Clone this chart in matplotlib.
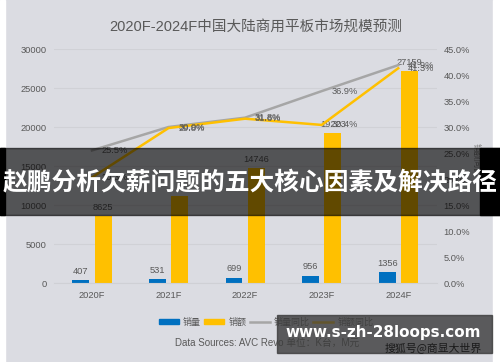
import matplotlib
matplotlib.use("Agg")
import matplotlib.pyplot as plt
from matplotlib.patches import Patch, Rectangle
from matplotlib.lines import Line2D

plt.rcParams['font.family'] = ['Liberation Sans', 'Noto Sans CJK SC', 'DejaVu Sans']

categories = ['2020F', '2021F', '2022F', '2023F', '2024F']
volume = [407, 531, 699, 956, 1356]
value = [8625, 11205, 14746, 19223, 27159]
volume_yoy = [25.5, 30.0, 31.8, 36.9, 41.9]
value_yoy = [20.3, 29.8, 31.6, 30.4, 41.3]
left_ticks = [0, 5000, 10000, 15000, 20000, 25000, 30000]
right_ticks = [0, 5, 10, 15, 20, 25, 30, 35, 40, 45]

BG = '#dbdce2'
TXT = '#595959'
BLUE = '#0070c0'
YEL = '#ffc000'
GRAY = '#a6a6a6'

fig = plt.figure(figsize=(5, 3.62), dpi=100, facecolor=BG)
ax = fig.add_axes([0.1074, 0.2182, 0.7656, 0.6464])
ax.set_facecolor(BG)
x = list(range(len(categories)))
w = 0.22
off = 0.145
b1 = ax.bar([i - off for i in x], volume, width=w, color=BLUE, zorder=2)
b2 = ax.bar([i + off for i in x], value, width=w, color=YEL, zorder=2)
ax.bar_label(b1, labels=[str(v) for v in volume], padding=3, fontsize=6.7, color=TXT)
ax.bar_label(b2, labels=[str(v) if i != 1 else '' for i, v in enumerate(value)],
             padding=3, fontsize=6.7, color=TXT)
ax.set_ylim(0, 30000)
ax.set_xlim(-0.5, 4.5)
ax.set_yticks(left_ticks)
ax.set_yticklabels([str(t) for t in left_ticks])
ax.set_xticks(x)
ax.set_xticklabels(categories)
ax.tick_params(axis='both', length=0, labelsize=6.7, labelcolor=TXT)
ax.tick_params(axis='y', pad=5)
ax.tick_params(axis='x', pad=6)
for s in ['top', 'left', 'right']:
    ax.spines[s].set_visible(False)
ax.spines['bottom'].set_color('#cfd0d5')
ax.grid(axis='y', color='#d0d1d6', linewidth=0.8, zorder=0)
ax.set_axisbelow(True)

ax2 = ax.twinx()
ax2.set_ylim(0, 45)
ax2.set_yticks(right_ticks)
ax2.set_yticklabels([f'{t:.1f}%' for t in right_ticks])
ax2.tick_params(axis='y', length=0, labelsize=6.7, labelcolor=TXT, pad=5)
for s in ['top', 'left', 'right', 'bottom']:
    ax2.spines[s].set_visible(False)
ax2.plot(x, volume_yoy, color=GRAY, linewidth=1.8, zorder=3)
ax2.plot(x, value_yoy, color=YEL, linewidth=1.8, zorder=3)
for i in x:
    ax2.annotate(f'{volume_yoy[i]:.1f}%', (i, volume_yoy[i]), xytext=(7, 0),
                 textcoords='offset points', ha='left', va='center', fontsize=6.7, color=TXT)
    ax2.annotate(f'{value_yoy[i]:.1f}%', (i, value_yoy[i]), xytext=(7, 0),
                 textcoords='offset points', ha='left', va='center', fontsize=6.7, color=TXT)

fig.text(256 / 500, 1 - 27 / 362, '2020F-2024F中国大陆商用平板市场规模预测',
         ha='center', va='center', fontsize=10.5, color=TXT)
fig.text(476 / 500, 1 - 160 / 362, '销额同比', rotation=270, ha='center', va='center',
         fontsize=6, color='#808080')

handles = [Patch(color=BLUE), Patch(color=YEL),
           Line2D([0], [0], color=GRAY, lw=1.8), Line2D([0], [0], color=YEL, lw=1.8)]
fig.legend(handles, ['销量', '销额', '销量同比', '销额同比'], loc='center',
           bbox_to_anchor=(266 / 500, 1 - 322 / 362), ncol=4, frameon=False,
           fontsize=6.5, labelcolor=TXT, handlelength=2.2, handleheight=0.6,
           handletextpad=0.45, columnspacing=0.4)
fig.text(267 / 500, 1 - 343 / 362, 'Data Sources: AVC Revo 单位：K台，M元',
         ha='center', va='center', fontsize=7, color=TXT)

# white side margins
fig.add_artist(Rectangle((0, 0), 5 / 500, 1, transform=fig.transFigure, color='white', zorder=5))
fig.add_artist(Rectangle((493 / 500, 0), 7 / 500, 1, transform=fig.transFigure, color='white', zorder=5))

# overlay banner
by0, by1 = 148, 215
fig.add_artist(Rectangle((0, 1 - by1 / 362), 1, (by1 - by0) / 362, transform=fig.transFigure,
                         color='black', alpha=0.62, zorder=6))
fig.add_artist(Rectangle((0, 1 - by1 / 362), 5 / 500, (by1 - by0) / 362, transform=fig.transFigure,
                         color='black', zorder=6))
fig.add_artist(Rectangle((480 / 500, 1 - by1 / 362), 20 / 500, (by1 - by0) / 362,
                         transform=fig.transFigure, color='black', zorder=6))
fig.text(250 / 500, 1 - 183 / 362, '赵鹏分析欠薪问题的五大核心因素及解决路径',
         ha='center', va='center', fontsize=17.8, fontweight='bold', color='white',
         family=['Noto Sans CJK SC'], zorder=7)

# watermark box
fig.add_artist(Rectangle((277 / 500, 1 - 353 / 362), 215 / 500, 38 / 362, transform=fig.transFigure,
                         color='#3a3a3a', alpha=0.8, zorder=6))
fig.text(383 / 500, 1 - 332 / 362, 'www.s-zh-28loops.com', ha='center', va='center',
         fontsize=10.9, fontweight='bold', color='white', family=['DejaVu Sans'], zorder=7)
fig.text(433 / 500, 1 - 349 / 362, '搜狐号@商显大世界', ha='center', va='center',
         fontsize=7.8, color='#1a1a1a', family=['Noto Sans CJK SC'], zorder=7)

fig.savefig('out.png', dpi=100, facecolor=BG)
